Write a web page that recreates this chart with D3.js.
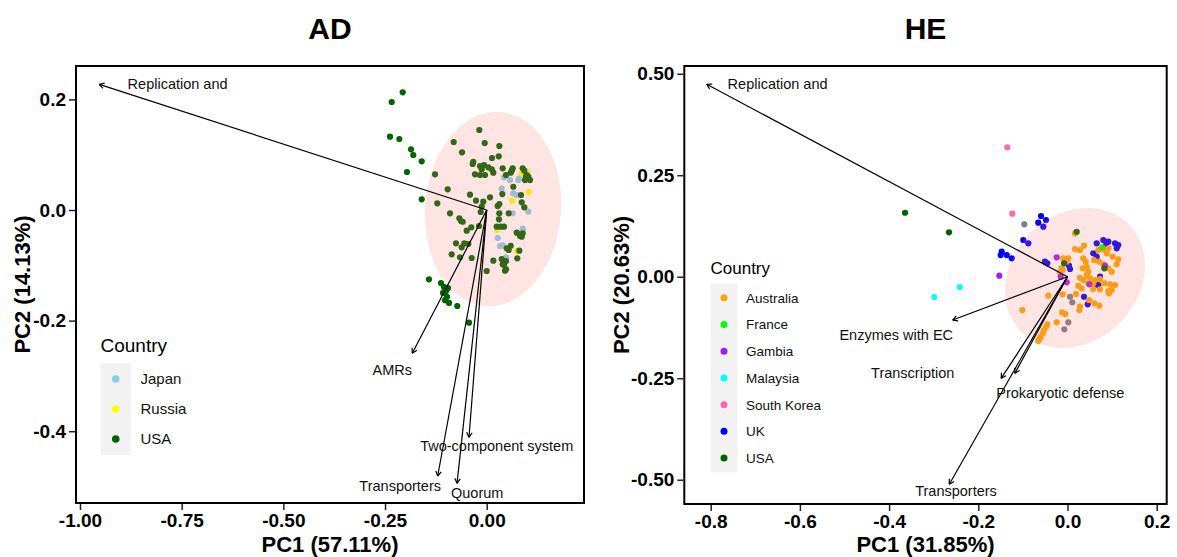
<!DOCTYPE html>
<html>
<head>
<meta charset="utf-8">
<script src="https://cdn.jsdelivr.net/npm/d3@7"></script>
<style>
  html, body { margin: 0; padding: 0; background: #fff; }
  svg { display: block; font-family: "Liberation Sans", Arial, Helvetica, sans-serif; }
</style>
</head>
<body>
<svg id="chart" width="1177" height="557"></svg>
<script>
// ---------------- AD panel: PCA scores by country ----------------
const adCountries = ["Japan", "Russia", "USA"];
const adColors = ["#87CEEB", "#FFFF00", "#006400"];

const adJapan = [
  [0.0425,0.0591],[0.0573,0.0542],[0.0777,0.0542],[0.0802,0.0573],[0.0369,0.0385],
  [0.0654,0.0302],[0.0738,0.0271],[0.1023,-0.0031],[0.0639,-0.006],[0.0885,-0.0338],
  [0.0885,-0.0374],[0.027,-0.0506],[0.0327,-0.0651],[0.0393,-0.0638],[0.0475,-0.0855]
];
const adRussia = [
  [0.0984,0.0693],[0.0861,0.0664],[0.1033,0.0325],[0.0622,0.0168],[0.0246,-0.0362],[0.0738,-0.0741]
];
const adUSA = [
  [-0.2065,0.2128],[-0.2336,0.1953],[-0.2378,0.1326],[-0.2149,0.1284],[-0.1861,0.1098],
  [-0.1805,0.0995],[-0.1598,0.0881],[-0.196,0.0687],[-0.1598,0.0193],[-0.1419,-0.1253],
  [-0.1124,-0.132],[-0.105,-0.139],[-0.100,-0.1465],[-0.1074,-0.150],[-0.0976,-0.157],
  [-0.1025,-0.163],[-0.095,-0.141],[-0.0927,-0.168],[-0.0723,-0.1736],[-0.0435,-0.2038],
  [-0.0182,0.1447],[-0.0811,0.123],[-0.0049,0.1212],[0.031,0.1157],[-0.0607,0.1043],
  [0.0295,0.0971],[0.013,0.094],[-0.033,0.0873],[-0.0344,0.0832],[-0.0165,0.0796],
  [-0.0066,0.0814],[0.0039,0.0772],[0.0123,0.0736],[-0.0123,0.0736],[-0.0288,0.0646],
  [-0.0165,0.0633],[-0.0042,0.0633],[-0.1271,0.0646],[0.0162,0.0675],[0.0393,0.0754],
  [0.0639,0.0754],[0.0615,0.0711],[0.059,0.0675],[0.0475,0.0633],[0.0885,0.0754],
  [0.0925,0.0711],[0.0984,0.0633],[0.1023,0.0602],[0.1065,0.0542],[0.0942,0.0542],
  [0.0966,0.0602],[-0.0959,0.0374],[0.0654,0.0421],[-0.0411,0.0277],[0.0384,0.0289],
  [0.0843,0.0271],[-0.0263,0.0168],[-0.0084,0.015],[0.0081,0.023],[-0.1215,0.0121],
  [0.031,0.0108],[0.027,0.0072],[0.0861,0.0139],[0.0925,0.0049],[-0.0123,0.006],
  [-0.0148,-0.0036],[-0.0902,-0.006],[0.031,-0.006],[0.0541,-0.006],[0.0302,-0.0168],
  [-0.0674,-0.015],[-0.0632,-0.0199],[-0.059,-0.0212],[-0.0189,-0.0289],[-0.0379,-0.0313],
  [0.0246,-0.0302],[0.0344,-0.0302],[0.0425,-0.0302],[-0.0492,-0.0374],[0.0738,-0.041],
  [0.0802,-0.0439],[0.0885,-0.0421],[0.0861,-0.0483],[0.0819,-0.047],[-0.0755,-0.0602],
  [-0.0551,-0.0602],[-0.0452,-0.0615],[-0.0615,-0.0675],[0.059,-0.0646],[0.0541,-0.0723],
  [0.0492,-0.0693],[-0.0861,-0.0801],[-0.0657,-0.0855],[-0.0369,-0.0868],[0.0802,-0.0736],
  [0.0162,-0.0917],[0.0369,-0.0886],[0.0475,-0.0922],[0.0425,-0.0995],[0.0393,-0.0982],
  [0.0752,-0.0873],[0.045,-0.1098],[0.0475,-0.1072],[0,-0.1103]
];

// variable loadings (arrow tips) and where their labels sit
const adLoadingNames = ["Replication and", "AMRs", "Two-component system", "Transporters", "Quorum"];
const adLoadingX = [-0.9526, -0.183, -0.0435, -0.1205, -0.073];
const adLoadingY = [0.2273, -0.2591, -0.411, -0.481, -0.4942];
const adLabelX = [-0.760, -0.2321, 0.0246, -0.2127, -0.0234];
const adLabelY = [0.2278, -0.2893, -0.4262, -0.4986, -0.5112];

// 95% ellipse: centre and two conjugate semi-diameters
const adEllipseCenter = [0.0155, 0.0018];
const adEllipseAxisA = [0.0184, 0.1754];
const adEllipseAxisB = [0.1667, -0.0094];

const adXTicks = [-1, -0.75, -0.5, -0.25, 0];
const adXTickLabels = ["-1.00", "-0.75", "-0.50", "-0.25", "0.00"];
const adYTicks = [-0.4, -0.2, 0, 0.2];
const adYTickLabels = ["-0.4", "-0.2", "0.0", "0.2"];

// ---------------- HE panel ----------------
const heCountries = ["Australia", "France", "Gambia", "Malaysia", "South Korea", "UK", "USA"];
const heColors = ["#FFA500", "#00FF00", "#A020F0", "#00FFFF", "#FF69B4", "#0000FF", "#006400"];
const heMissingColor = "#7F7F7F";

const heAustralia = [
  [0.0168,0.1069],[0.0168,0.0682],[0.037,0.0764],[0.028,0.0658],[0.0691,0.0658],[0.0803,0.0682],
  [0.0915,0.07],[0.0879,0.0576],[0.1013,0.0493],[0.1139,0.0429],[0.1103,0.0305],
  [-0.0094,0.0453],[0.0018,0.0453],[-0.013,0.0207],[-0.0168,0.0108],[0.0354,0.0453],
  [0.0408,0.0369],[0.043,0.0246],[0.0341,0.0207],[0.0466,0.0123],[0.043,0.0042],
  [0.0594,0.0411],[0.0713,0.0369],[0.0803,0.0305],[0.0915,0.0207],[0.0991,0.0123],
  [0.028,-0.0025],[0.0354,-0.0081],[0.0504,-0.0039],[0.0617,-0.0081],[0.0729,-0.0057],
  [0.0578,-0.0163],[0.0466,-0.0163],[0.0825,-0.0163],[0.0953,-0.0187],[0.1065,-0.0204],
  [0.0991,-0.0328],[0.0915,-0.0352],[0.0242,-0.0222],[0.0318,-0.0286],[0.0578,-0.0303],
  [0.0729,-0.031],[0.093,-0.0409],[-0.043,-0.0468],[-0.0108,-0.0433],[0.0191,-0.0426],
  [0.0482,-0.0574],[0.0601,-0.0655],[0.0713,-0.0714],[0.028,-0.0739],[0.0265,-0.082],
  [-0.0123,-0.0877],[-0.0049,-0.0919],[-0.0242,-0.1123],[-0.1013,-0.082],[-0.0453,-0.1172],
  [-0.0482,-0.1232],[-0.0527,-0.1313],[-0.0556,-0.1394],[-0.0601,-0.1478],[-0.0632,-0.1542],
  [-0.0655,-0.1584],[-0.0108,0.0165],[-0.0018,0.0369]
];
const heFrance = [[0.0774,0.0724]];
const heGambia = [
  [-0.1529,0.0025],[-0.0242,0.0478],[-0.0152,0],[-0.0018,-0.0138],[0.0489,-0.0187],[0.0841,0.0271]
];
const heMalaysia = [[-0.2417,-0.0254],[-0.2987,-0.05]];
const heSouthKorea = [[-0.135,0.3187],[-0.1238,0.1552]];
const heUK = [
  [-0.0594,0.1495],[-0.0655,0.133],[-0.0543,0.1232],[-0.0482,0.1397],[-0.0991,0.0904],
  [-0.0879,0.0823],[-0.1475,0.0616],[-0.1498,0.0534],[-0.1363,0.0534],[-0.1251,0.0453],
  [-0.0504,0.037],[-0.0453,0.033],[0.0034,0.0271],[0.0056,0.019],[0.0655,0.0823],
  [0.0803,0.0904],[0.0915,0.0862],[0.1065,0.0823],[0.1139,0.0781],[0.1103,0.07],
  [0.0863,0.0781],[0.0578,0.0576],[0.0655,0.0493],[0.0729,0],[0.0691,-0.0204],
  [0.0655,-0.0187],[0.037,-0.0493],[0.0453,-0.068]
];
const heUSA = [[-0.3643,0.1576],[-0.2657,0.1094],[0.0206,0.1108],[-0.0078,0.033],[0.0825,0.0207]];
const heMissing = [[-0.0969,0.129],[0.0056,-0.0493],[0.0108,-0.0631],[0.0018,-0.1123],[-0.0072,-0.1296]];

const heLoadingNames = ["Replication and", "Enzymes with EC", "Transcription", "Prokaryotic defense", "Transporters"];
const heLoadingX = [-0.809, -0.2574, -0.1487, -0.118, -0.265];
const heLoadingY = [0.474, -0.1067, -0.2502, -0.238, -0.511];
const heLabelX = [-0.650, -0.384, -0.347, -0.016, -0.250];
const heLabelY = [0.476, -0.1436, -0.2355, -0.2847, -0.527];

const heEllipseCenter = [0.0168, -0.0032];
const heEllipseAxisA = [0.1204, 0.1323];
const heEllipseAxisB = [0.1004, -0.1103];

const heXTicks = [-0.8, -0.6, -0.4, -0.2, 0, 0.2];
const heXTickLabels = ["-0.8", "-0.6", "-0.4", "-0.2", "0.0", "0.2"];
const heYTicks = [-0.5, -0.25, 0, 0.25, 0.5];
const heYTickLabels = ["-0.50", "-0.25", "0.00", "0.25", "0.50"];

// ---------------- drawing ----------------
const svg = d3.select("#chart");
const ELLIPSE_FILL = "#F8766D";

function drawPanel(p) {
  const g = svg.append("g");
  const x = d3.scaleLinear().domain(p.xDomain).range([p.box.left, p.box.right]);
  const y = d3.scaleLinear().domain(p.yDomain).range([p.box.bottom, p.box.top]);

  const clipId = "clip-" + p.title;
  svg.append("defs").append("clipPath").attr("id", clipId)
    .append("rect")
    .attr("x", p.box.left).attr("y", p.box.top)
    .attr("width", p.box.right - p.box.left).attr("height", p.box.bottom - p.box.top);
  const plot = g.append("g").attr("clip-path", `url(#${clipId})`);

  // score points, one layer per group
  p.groups.forEach(grp => {
    plot.append("g").selectAll("circle").data(grp.values).join("circle")
      .attr("cx", d => x(d[0])).attr("cy", d => y(d[1]))
      .attr("r", p.pointRadius).attr("fill", grp.color);
  });

  // confidence ellipse, translucent, over the points
  const ts = d3.range(0, 361, 3).map(a => a * Math.PI / 180);
  const ellPts = ts.map(t => [
    p.ellipse.center[0] + p.ellipse.a[0] * Math.cos(t) + p.ellipse.b[0] * Math.sin(t),
    p.ellipse.center[1] + p.ellipse.a[1] * Math.cos(t) + p.ellipse.b[1] * Math.sin(t)
  ]);
  plot.append("path")
    .attr("d", d3.line().x(d => x(d[0])).y(d => y(d[1])).curve(d3.curveLinearClosed)(ellPts))
    .attr("fill", ELLIPSE_FILL).attr("fill-opacity", 0.2).attr("stroke", "none");

  // loading arrows from the origin
  const ox = x(0), oy = y(0);
  const arrows = plot.append("g").attr("stroke", "#000").attr("stroke-width", 1.2).attr("fill", "none");
  p.loadings.x.forEach((lx, i) => {
    const tx = x(lx), ty = y(p.loadings.y[i]);
    arrows.append("line").attr("x1", ox).attr("y1", oy).attr("x2", tx).attr("y2", ty);
    const len = Math.hypot(tx - ox, ty - oy);
    const ux = (tx - ox) / len, uy = (ty - oy) / len;
    const headLen = 5.5, ang = Math.PI / 6;
    [-ang, ang].forEach(a => {
      const rx = ux * Math.cos(a) - uy * Math.sin(a);
      const ry = ux * Math.sin(a) + uy * Math.cos(a);
      arrows.append("line").attr("x1", tx).attr("y1", ty)
        .attr("x2", tx - headLen * rx).attr("y2", ty - headLen * ry);
    });
  });
  plot.append("g").selectAll("text").data(p.loadings.names).join("text")
    .attr("x", (d, i) => x(p.loadings.labelX[i]))
    .attr("y", (d, i) => y(p.loadings.labelY[i]))
    .attr("dy", "0.36em")
    .attr("text-anchor", "middle")
    .attr("font-size", 14.5).attr("fill", "#111")
    .text(d => d);

  // panel border
  g.append("rect")
    .attr("x", p.box.left).attr("y", p.box.top)
    .attr("width", p.box.right - p.box.left).attr("height", p.box.bottom - p.box.top)
    .attr("fill", "none").attr("stroke", "#000").attr("stroke-width", 2);

  // axes
  const xAxis = d3.axisBottom(x).tickValues(p.xTicks).tickSize(6).tickPadding(4)
    .tickFormat((d, i) => p.xTickLabels[i]);
  const yAxis = d3.axisLeft(y).tickValues(p.yTicks).tickSize(6).tickPadding(3)
    .tickFormat((d, i) => p.yTickLabels[i]);
  const gx = g.append("g").attr("transform", `translate(0,${p.box.bottom + 1})`).call(xAxis);
  const gy = g.append("g").attr("transform", `translate(${p.box.left - 1},0)`).call(yAxis);
  [gx, gy].forEach(ax => {
    ax.select(".domain").remove();
    ax.selectAll(".tick line").attr("stroke", "#222").attr("stroke-width", 1.5);
    ax.selectAll(".tick text").attr("font-size", 19).attr("font-weight", "bold")
      .attr("fill", "#000").style("font-family", '"Liberation Sans", Arial, sans-serif');
  });

  const cx = (p.box.left + p.box.right) / 2;
  const cy = (p.box.top + p.box.bottom) / 2;
  g.append("text").attr("x", cx).attr("y", 39).attr("text-anchor", "middle")
    .attr("font-size", 30).attr("font-weight", "bold").text(p.title);
  g.append("text").attr("x", cx).attr("y", 552).attr("text-anchor", "middle")
    .attr("font-size", 22).attr("font-weight", "bold").text(p.xTitle);
  g.append("text").attr("transform", `translate(${p.yTitleX},${cy}) rotate(-90)`)
    .attr("text-anchor", "middle")
    .attr("font-size", 22).attr("font-weight", "bold").text(p.yTitle);

  // legend
  const L = p.legend;
  const lg = g.append("g");
  lg.append("text").attr("x", L.x).attr("y", L.titleY).attr("font-size", L.titleSize).text("Country");
  lg.append("rect").attr("x", L.x).attr("y", L.keyTop)
    .attr("width", L.keyWidth).attr("height", L.step * L.names.length + 2)
    .attr("fill", "#F2F2F2");
  L.names.forEach((name, i) => {
    const ky = L.keyTop + L.step * (i + 0.5) + 1;
    lg.append("circle").attr("cx", L.x + L.keyWidth / 2).attr("cy", ky).attr("r", L.dotR).attr("fill", L.colors[i]);
    lg.append("text").attr("x", L.x + L.keyWidth + L.labelGap).attr("y", ky).attr("dy", "0.36em")
      .attr("font-size", L.labelSize).attr("fill", "#111").text(name);
  });
}

drawPanel({
  title: "AD",
  box: { left: 76, right: 584, top: 66, bottom: 503 },
  xDomain: [-1.0098, 0.2392],
  yDomain: [-0.5298, 0.2604],
  pointRadius: 3.1,
  groups: [
    { values: adJapan, color: adColors[0] },
    { values: adRussia, color: adColors[1] },
    { values: adUSA, color: adColors[2] }
  ],
  ellipse: { center: adEllipseCenter, a: adEllipseAxisA, b: adEllipseAxisB },
  loadings: { names: adLoadingNames, x: adLoadingX, y: adLoadingY, labelX: adLabelX, labelY: adLabelY },
  xTicks: adXTicks, xTickLabels: adXTickLabels,
  yTicks: adYTicks, yTickLabels: adYTickLabels,
  xTitle: "PC1 (57.11%)", yTitle: "PC2 (14.13%)", yTitleX: 30,
  legend: { x: 100.5, titleY: 351.5, titleSize: 19, keyTop: 363, keyWidth: 30.5, step: 30,
            dotR: 3.8, labelGap: 9.5, labelSize: 15, names: adCountries, colors: adColors }
});

drawPanel({
  title: "HE",
  box: { left: 684.3, right: 1166.7, top: 66, bottom: 504 },
  xDomain: [-0.8592, 0.2224],
  yDomain: [-0.5598, 0.519],
  pointRadius: 3.1,
  groups: [
    { values: heUK, color: heColors[5] },
    { values: heAustralia, color: heColors[0] },
    { values: heGambia, color: heColors[2] },
    { values: heMissing, color: heMissingColor },
    { values: heFrance, color: heColors[1] },
    { values: heUSA, color: heColors[6] },
    { values: heMalaysia, color: heColors[3] },
    { values: heSouthKorea, color: heColors[4] }
  ],
  ellipse: { center: heEllipseCenter, a: heEllipseAxisA, b: heEllipseAxisB },
  loadings: { names: heLoadingNames, x: heLoadingX, y: heLoadingY, labelX: heLabelX, labelY: heLabelY },
  xTicks: heXTicks, xTickLabels: heXTickLabels,
  yTicks: heYTicks, yTickLabels: heYTickLabels,
  xTitle: "PC1 (31.85%)", yTitle: "PC2 (20.63%)", yTitleX: 629,
  legend: { x: 710.5, titleY: 273.5, titleSize: 17, keyTop: 283.5, keyWidth: 27, step: 26.7,
            dotR: 3.5, labelGap: 8.5, labelSize: 13.5, names: heCountries, colors: heColors }
});
</script>
</body>
</html>
